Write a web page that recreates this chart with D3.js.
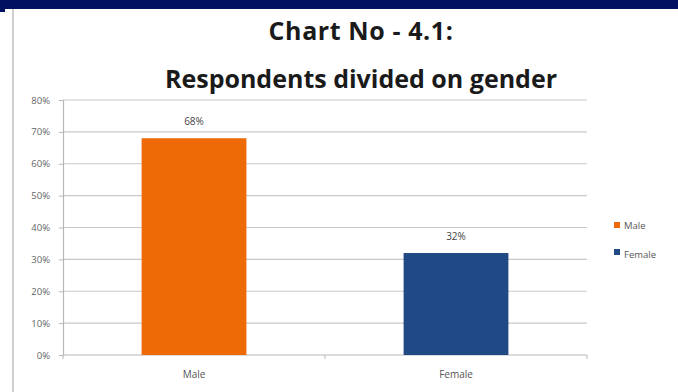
<!DOCTYPE html>
<html>
<head>
<meta charset="utf-8">
<script src="https://cdn.jsdelivr.net/npm/d3@7"></script>
<style>
  html, body { margin: 0; padding: 0; background: #fff; }
  svg { display: block; }
  text { font-family: "Open Sans", "DejaVu Sans", sans-serif; }
</style>
</head>
<body>
<svg id="chart" width="678" height="392"></svg>
<script>
// Chart data
const categories = ["Male", "Female"];
const values = [0.68, 0.32];
const barColors = ["#EE6A06", "#1F4A86"];
const yTicks = [0, 0.1, 0.2, 0.3, 0.4, 0.5, 0.6, 0.7, 0.8];
const titleLines = ["Chart No - 4.1:", "Respondents divided on gender"];

const svg = d3.select("#chart");
const W = 678, H = 392;

// Frame: dark band along the top and a thin grey rule on the left
svg.append("rect").attr("x", 0).attr("y", 0).attr("width", W).attr("height", 9).attr("fill", "#01105F");
svg.append("rect").attr("x", 0).attr("y", 0).attr("width", 5).attr("height", 12).attr("fill", "#01105F");
svg.append("rect").attr("x", 12).attr("y", 9).attr("width", 2).attr("height", H - 9).attr("fill", "#cfcfcf");

// Title
svg.append("text").attr("x", 361).attr("y", 40).attr("text-anchor", "middle")
  .attr("font-size", 25).attr("font-weight", "bold").attr("letter-spacing", 0.6)
  .attr("fill", "#1a1a1a").text(titleLines[0]);
svg.append("text").attr("x", 361).attr("y", 88).attr("text-anchor", "middle")
  .attr("font-size", 25).attr("font-weight", "bold").attr("fill", "#1a1a1a").text(titleLines[1]);

// Plot area
const plotLeft = 63, plotRight = 587, plotTop = 100, plotBottom = 355;
const x = d3.scaleBand().domain(categories).range([plotLeft, plotRight]).padding(0);
const y = d3.scaleLinear().domain([0, 0.8]).range([plotBottom, plotTop]);

// Gridlines
svg.append("g").selectAll("line").data(yTicks.slice(1)).join("line")
  .attr("x1", plotLeft).attr("x2", plotRight)
  .attr("y1", d => y(d)).attr("y2", d => y(d))
  .attr("stroke", "#c8c8c8").attr("stroke-width", 1.2);

// Y axis
const yAxis = d3.axisLeft(y).tickValues(yTicks).tickFormat(d3.format(".0%")).tickSize(4).tickPadding(9);
const gy = svg.append("g").attr("transform", `translate(${plotLeft},0)`).call(yAxis);
gy.select(".domain").attr("stroke", "#b8b8b8").attr("stroke-width", 1.2);
gy.selectAll(".tick line").attr("stroke", "#b8b8b8");
gy.selectAll(".tick text").attr("font-size", 9.5).attr("fill", "#666")
  .style("font-family", "'Open Sans', sans-serif");

// X axis with category separator ticks
const gx = svg.append("g").attr("transform", `translate(0,${plotBottom})`);
gx.append("line").attr("x1", plotLeft).attr("x2", plotRight).attr("y1", 0).attr("y2", 0)
  .attr("stroke", "#b8b8b8").attr("stroke-width", 1.2);
const sepTicks = [plotLeft].concat(categories.map(c => x(c) + x.bandwidth()));
gx.selectAll("line.sep").data(sepTicks).join("line").attr("class", "sep")
  .attr("x1", d => d).attr("x2", d => d).attr("y1", 0).attr("y2", 4)
  .attr("stroke", "#b8b8b8");
gx.selectAll("text.cat").data(categories).join("text").attr("class", "cat")
  .attr("x", d => x(d) + x.bandwidth() / 2).attr("y", 23)
  .attr("text-anchor", "middle").attr("font-size", 10).attr("fill", "#555")
  .text(d => d);

// Bars
const barW = x.bandwidth() * 0.4;
svg.append("g").selectAll("rect").data(categories).join("rect")
  .attr("x", d => x(d) + x.bandwidth() / 2 - barW / 2)
  .attr("y", (d, i) => y(values[i]))
  .attr("width", barW)
  .attr("height", (d, i) => y(0) - y(values[i]))
  .attr("fill", (d, i) => barColors[i]);

// Value labels
svg.append("g").selectAll("text").data(categories).join("text")
  .attr("x", d => x(d) + x.bandwidth() / 2)
  .attr("y", (d, i) => y(values[i]) - 13)
  .attr("text-anchor", "middle").attr("font-size", 10).attr("fill", "#444")
  .text((d, i) => d3.format(".0%")(values[i]));

// Legend
const lg = svg.append("g").attr("transform", "translate(614,222)");
categories.forEach((c, i) => {
  const gi = lg.append("g").attr("transform", `translate(0,${i * 27})`);
  gi.append("rect").attr("x", 0).attr("y", 0).attr("width", 6).attr("height", 6).attr("fill", barColors[i]);
  gi.append("text").attr("x", 10).attr("y", 7 + i * 2).attr("font-size", 9.5).attr("fill", "#555").text(c);
});
</script>
</body>
</html>
